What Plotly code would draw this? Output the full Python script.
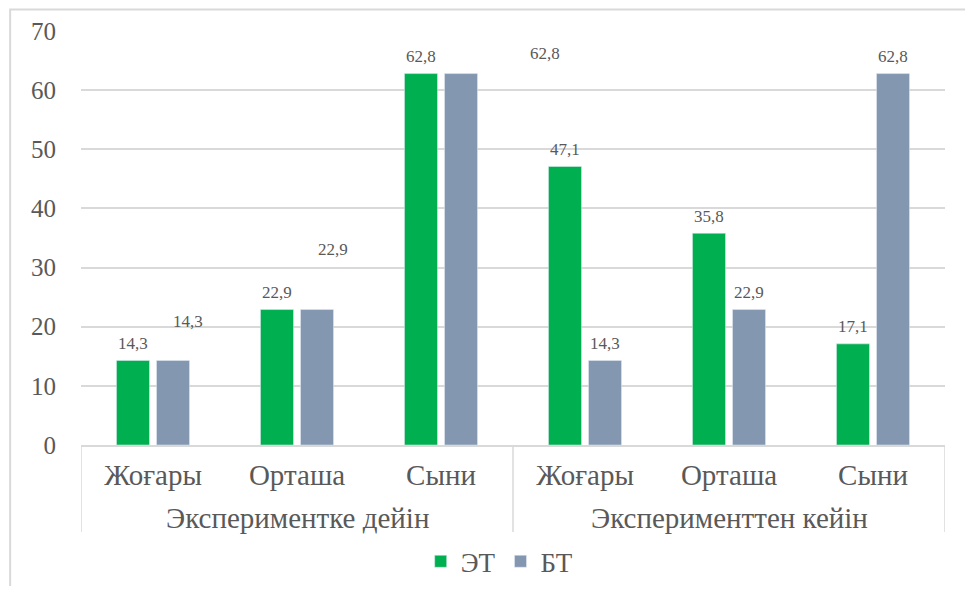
import plotly.graph_objects as go

groups = ["Экспериментке дейін", "Эксперименттен кейін"]
levels = ["Жоғары", "Орташа", "Сыни"]
et_values = [14.3, 22.9, 62.8, 47.1, 35.8, 17.1]
bt_values = [14.3, 22.9, 62.8, 14.3, 22.9, 62.8]
# labels that were dragged away from their bars in the original (index: (dx px, dy px))
bt_moved_labels = {0: (15, 22), 1: (16, 43), 2: (84, 3)}

FONT = "Liberation Serif"
GREY = "#595959"
LINE = "#d9d9d9"

categories = [c for _ in groups for c in levels]
positions = list(range(len(categories)))


def fmt(v):
    return f"{v:.1f}".replace(".", ",")


fig = go.Figure()
fig.add_trace(go.Bar(name="ЭТ", x=positions, y=et_values, marker_color="#00b050"))
fig.add_trace(go.Bar(name="БТ", x=positions, y=bt_values, marker_color="#8497b0"))

bargap = 0.444
# centre of each bar inside a category, in category units
half = (1 - bargap) / 4

# data labels
for values, offset, moved in ((et_values, -half, {}), (bt_values, half, bt_moved_labels)):
    for i, v in enumerate(values):
        dx, dy = moved.get(i, (0, 0))
        fig.add_annotation(
            x=positions[i] + offset,
            y=v,
            xref="x",
            yref="y",
            text=fmt(v),
            showarrow=False,
            yanchor="middle",
            xshift=dx,
            yshift=17 + dy,
            font=dict(family=FONT, size=17, color=GREY),
        )

# group labels under the category labels
n = len(levels)
for g, name in enumerate(groups):
    fig.add_annotation(
        x=sum(positions[g * n:(g + 1) * n]) / n,
        y=-0.177,
        xref="x",
        yref="paper",
        text=name,
        showarrow=False,
        yanchor="middle",
        font=dict(family=FONT, size=29, color=GREY),
    )

# dividers between the groups
for k in range(len(groups) + 1):
    xd = positions[0] - 0.5 + k * n
    fig.add_shape(
        type="line",
        xref="x",
        yref="paper",
        x0=xd,
        x1=xd,
        y0=0,
        y1=-0.21,
        line=dict(color=LINE, width=1.5),
    )

# chart area border (Excel-like)
fig.add_shape(
    type="rect",
    xref="paper",
    yref="paper",
    x0=-0.082,
    x1=1.2,
    y0=-0.5,
    y1=1.052,
    line=dict(color=LINE, width=2),
    fillcolor="rgba(0,0,0,0)",
    layer="below",
)

fig.update_layout(
    width=957,
    height=578,
    margin={"l": 73, "r": 20, "t": 23, "b": 141, "autoexpand": False},
    plot_bgcolor="white",
    paper_bgcolor="white",
    barmode="group",
    bargap=bargap,
    bargroupgap=0.175,
    font=dict(family=FONT, color=GREY),
    showlegend=True,
    legend=dict(
        orientation="h",
        x=0.484,
        xanchor="center",
        yref="container",
        y=0.042,
        yanchor="middle",
        font=dict(family=FONT, size=27, color=GREY),
        itemwidth=30,
    ),
)
fig.update_yaxes(
    range=[0, 70],
    dtick=10,
    showgrid=True,
    gridcolor=LINE,
    gridwidth=1.5,
    zeroline=False,
    showline=False,
    tickfont=dict(family=FONT, size=25, color=GREY),
    ticklabelstandoff=24,
)
fig.update_xaxes(
    range=[positions[0] - 0.5, positions[-1] + 0.5],
    tickvals=positions,
    ticktext=categories,
    showgrid=False,
    zeroline=False,
    showline=True,
    linecolor=LINE,
    linewidth=1.5,
    tickfont=dict(family=FONT, size=29, color=GREY),
    ticklabelstandoff=3,
)

fig.write_html("out.html")
